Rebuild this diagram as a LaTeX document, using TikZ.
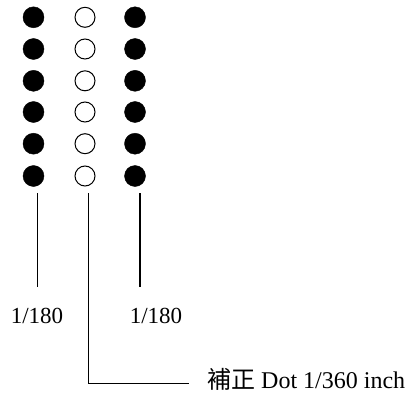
\documentclass[tikz,border=0pt]{standalone}
\usepackage{fontspec}
\setmainfont{Liberation Serif}
\newfontfamily\cjk{Noto Sans CJK TC}

\begin{document}
\begin{tikzpicture}[x=1pt,y=-1pt,
  full/.style={circle,draw,fill=black,inner sep=0pt,minimum width=21pt},
  hollow/.style={circle,draw,line width=1pt,fill=white,inner sep=0pt,minimum width=20pt},
  lbl/.style={font=\fontsize{23}{27}\selectfont,inner sep=0pt}]
\useasboundingbox (0,0) rectangle (409,396);

\node[full] at (33.5,17.3)	(l1) {};
\node[full] at (33.5,49)	(l2) {};
\node[full] at (33.5,80.8)	(l3) {};
\node[full] at (33.5,112)	(l4) {};
\node[full] at (33.5,143.7)	(l5) {};
\node[full] at (33.5,176)	(l6) {};

\node[hollow] at (85,17.3)	(m1) {};
\node[hollow] at (85,49)	(m2) {};
\node[hollow] at (85,80.8)	(m3) {};
\node[hollow] at (85,112)	(m4) {};
\node[hollow] at (85,143.7)	(m5) {};
\node[hollow] at (85,176)	(m6) {};

\node[full] at (135,17.3)	(r1) {};
\node[full] at (135,49)	(r2) {};
\node[full] at (135,80.8)	(r3) {};
\node[full] at (135,112)	(r4) {};
\node[full] at (135,143.7)	(r5) {};
\node[full] at (135,176)	(r6) {};

\coordinate (la) at (37.5,193);
\coordinate (lb) at (37.5,287);
\coordinate (ma) at (88.5,193);
\coordinate (mb) at (88.5,383.5);
\coordinate (ra) at (140,193);
\coordinate (rb) at (140,287);

\node[lbl] at (37,316)	(t1) {1/180};
\node[lbl] at (156,316)	(t2) {1/180};
\node[lbl,font=\fontsize{24}{28}\selectfont,anchor=base west] at (207,388)	(t3) {{\cjk 補正} Dot 1/360 inch};

\draw[line width=1.3pt] (la) -- (lb);
\draw[line width=1.3pt] (ra) -- (rb);
\draw[line width=1.3pt] (ma) -- (mb) -- ++(100.5,0) coordinate (mc);
\end{tikzpicture}
\end{document}
